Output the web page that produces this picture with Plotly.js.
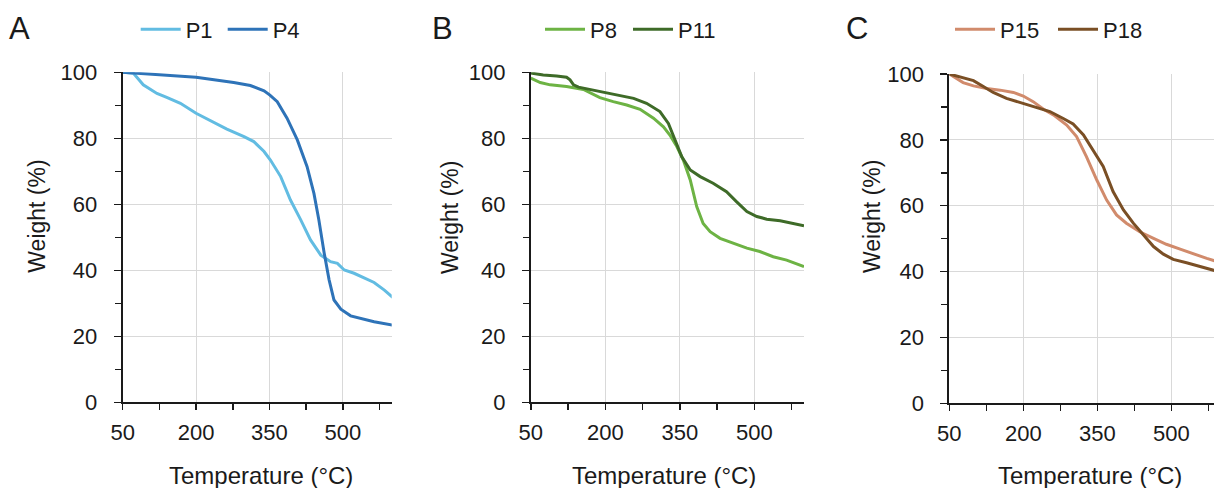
<!DOCTYPE html>
<html>
<head>
<meta charset="utf-8">
<script src="https://cdn.plot.ly/plotly-3.0.1.min.js"></script>
<style>html,body{margin:0;padding:0;background:#fff;}#chart{width:1214px;height:488px;}</style>
</head>
<body>
<div id="chart"></div>
<script>
// ---- Data (temperature in °C, weight in %) ----
const p1T = [50, 72, 92, 120, 140, 168, 200, 229, 263, 298, 318, 339, 352, 373, 393, 414, 434, 455, 475, 489, 503, 523, 544, 564, 585, 602];
const p1W = [100, 99.7, 96.2, 93.6, 92.4, 90.6, 87.6, 85.3, 82.8, 80.5, 79, 76, 73.4, 68.4, 61.3, 55.3, 49.2, 44.6, 42.6, 42.1, 40.1, 39.1, 37.6, 36.3, 34, 31.8];
const p4T = [50, 140, 200, 277, 311, 339, 351, 366, 386, 407, 427, 441, 451, 462, 472, 482, 496, 516, 537, 564, 602];
const p4W = [100, 99.2, 98.5, 96.9, 96, 94.4, 93.1, 91.1, 86.1, 79.5, 71.4, 63.3, 55.3, 45.2, 37.1, 31, 28.2, 26.2, 25.5, 24.4, 23.4];

const p8T = [50, 69, 89, 122, 156, 189, 216, 243, 270, 297, 317, 330, 344, 357, 371, 384, 397, 411, 431, 458, 485, 511, 538, 565, 585, 600];
const p8W = [98.2, 96.9, 96.2, 95.7, 94.8, 92.3, 91.1, 90.1, 88.8, 86.1, 83.5, 81, 77.5, 73.4, 67.4, 59.3, 54.2, 51.7, 49.7, 48.2, 46.7, 45.7, 44.1, 43.1, 41.9, 41.1];
const p11T = [50, 75, 102, 122, 129, 136, 146, 169, 196, 230, 257, 283, 310, 327, 340, 354, 371, 391, 417, 444, 464, 485, 505, 525, 552, 578, 600];
const p11W = [99.8, 99.2, 98.9, 98.5, 97.7, 96.2, 95.5, 94.8, 94.1, 93.1, 92.1, 90.6, 88.1, 84.5, 79.5, 74.4, 70.4, 68.4, 66.4, 63.8, 60.8, 57.8, 56.3, 55.5, 55, 54.2, 53.5];

const p15T = [50, 65, 78, 99, 126, 153, 180, 200, 220, 241, 261, 288, 308, 328, 349, 369, 389, 409, 436, 464, 490, 518, 545, 572, 600];
const p15W = [100, 98.7, 97.4, 96.4, 95.6, 95.1, 94.4, 93.3, 91.6, 89.3, 87.6, 84.5, 81, 74.9, 67.8, 61.7, 57.2, 54.7, 52.1, 50.1, 48.3, 46.8, 45.3, 44, 42.7];
const p18T = [50, 72, 99, 119, 139, 166, 200, 227, 254, 281, 301, 322, 342, 362, 382, 403, 423, 443, 464, 484, 504, 531, 558, 587, 600];
const p18W = [100, 99.2, 98, 96.2, 94.4, 92.6, 91.1, 89.9, 88.6, 86.5, 84.8, 81.5, 76.9, 71.9, 64.3, 58.7, 54.7, 51.1, 47.6, 45.3, 43.7, 42.7, 41.5, 40.2, 39.8];

const panelLetters = ['A', 'B', 'C'];
const xTitle = 'Temperature (°C)';
const yTitle = 'Weight (%)';

// ---- Layout helpers ----
const W = 1214, H = 488;
const px = v => v / W;
const py = v => 1 - v / H;
const FONT = 'Liberation Sans, Arial, sans-serif';
const TXT = '#1a1a1a';

function xax(domain, range) {
  return {
    domain: domain, range: range, tick0: 50, dtick: 150, tickmode: 'linear',
    showgrid: true, gridcolor: '#d9d9d9', gridwidth: 1,
    zeroline: false, showline: true, linecolor: '#1a1a1a', linewidth: 2,
    ticks: 'outside', ticklen: 6, tickwidth: 1.5, tickcolor: '#1a1a1a',
    tickfont: {family: FONT, size: 22, color: TXT}, ticklabelstandoff: 3,
    minor: {ticks: 'outside', ticklen: 6, tickwidth: 1.5, tickcolor: '#1a1a1a', dtick: 75, tick0: 50, showgrid: false},
    fixedrange: true
  };
}
function yax(domain, anchor) {
  return {
    domain: domain, range: [0, 100], tick0: 0, dtick: 20, tickmode: 'linear', anchor: anchor,
    showgrid: true, gridcolor: '#d9d9d9', gridwidth: 1,
    zeroline: false, showline: true, linecolor: '#1a1a1a', linewidth: 2,
    ticks: 'outside', ticklen: 7, tickwidth: 1.5, tickcolor: '#1a1a1a',
    tickfont: {family: FONT, size: 22, color: TXT}, ticklabelstandoff: 12,
    minor: {ticks: 'outside', ticklen: 6, tickwidth: 1.5, tickcolor: '#1a1a1a', dtick: 10, showgrid: false},
    fixedrange: true
  };
}
function tr(x, y, name, color, xa, ya, lg) {
  return {x: x, y: y, name: name, type: 'scatter', mode: 'lines',
    line: {color: color, width: 3}, xaxis: xa, yaxis: ya, legend: lg, hoverinfo: 'skip'};
}

const data = [
  tr(p1T, p1W, 'P1', '#62BCE2', 'x', 'y', 'legend'),
  tr(p4T, p4W, 'P4', '#2E73B8', 'x', 'y', 'legend'),
  tr(p8T, p8W, 'P8', '#6DB344', 'x2', 'y2', 'legend2'),
  tr(p11T, p11W, 'P11', '#3E6B28', 'x2', 'y2', 'legend2'),
  tr(p15T, p15W, 'P15', '#D18B6C', 'x3', 'y3', 'legend3'),
  tr(p18T, p18W, 'P18', '#7A4F25', 'x3', 'y3', 'legend3')
];

const yAB = [py(402.3), py(72.3)];
const yC = [py(403.3), py(74)];

function leg(xpix, ew) {
  return {orientation: 'h', x: px(xpix), xanchor: 'left', y: py(29.5), yanchor: 'middle',
    font: {family: FONT, size: 22, color: TXT}, bgcolor: 'rgba(0,0,0,0)',
    borderwidth: 0, itemwidth: 40, entrywidth: ew, entrywidthmode: 'pixels', tracegroupgap: 0,
    itemclick: false, itemdoubleclick: false};
}

function ann(text, x, y, size, angle) {
  return {text: text, x: px(x), y: py(y), xref: 'paper', yref: 'paper', showarrow: false,
    xanchor: 'center', yanchor: 'middle', textangle: angle || 0,
    font: {family: FONT, size: size, color: TXT}};
}

const layout = {
  width: W, height: H,
  margin: {l: 0, r: 0, t: 0, b: 0, pad: 0, autoexpand: false},
  paper_bgcolor: '#fff', plot_bgcolor: '#fff',
  showlegend: true,
  xaxis: xax([px(122.7), px(391.7)], [50, 600]),
  yaxis: yax(yAB, 'x'),
  xaxis2: xax([px(530.8), px(804)], [50, 600]),
  yaxis2: yax(yAB, 'x2'),
  xaxis3: xax([px(949.3), 1], [50, 586.6]),
  yaxis3: yax(yC, 'x3'),
  legend: leg(135.7, 32),
  legend2: leg(540, 33),
  legend3: leg(950, 48),
  annotations: [
    ann(panelLetters[0], 19.5, 28.5, 31),
    ann(panelLetters[1], 442, 28.5, 31),
    ann(panelLetters[2], 856.7, 28.5, 31),
    ann(yTitle, 36.7, 216, 23, -90),
    ann(yTitle, 450, 218, 23, -90),
    ann(yTitle, 872, 217, 23, -90),
    ann(xTitle, 260.8, 475, 24),
    ann(xTitle, 664, 475, 24),
    ann(xTitle, 1090, 475, 24)
  ]
};
layout.xaxis.anchor = 'y';
layout.xaxis2.anchor = 'y2';
layout.xaxis3.anchor = 'y3';

Plotly.newPlot('chart', data, layout, {displayModeBar: false, staticPlot: true});
</script>
</body>
</html>
